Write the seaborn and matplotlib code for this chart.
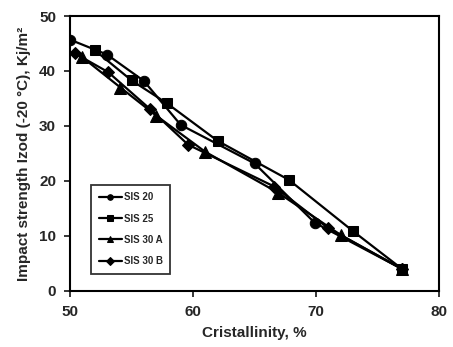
import matplotlib
matplotlib.use("Agg")
import matplotlib.pyplot as plt
import seaborn as sns
import pandas as pd

sis20_x = [50.0, 53.0, 56.0, 59.0, 65.0, 69.9, 77.0]
sis20_y = [45.7, 43.0, 38.2, 30.2, 23.2, 12.4, 4.0]
sis25_x = [52.0, 55.0, 57.9, 62.0, 67.8, 73.0, 77.0]
sis25_y = [43.8, 38.3, 34.1, 27.3, 20.2, 10.9, 4.0]
sis30a_x = [51.0, 54.1, 57.0, 61.0, 66.9, 72.0, 77.0]
sis30a_y = [42.5, 37.0, 31.9, 25.3, 17.9, 10.2, 4.0]
sis30b_x = [50.4, 53.1, 56.5, 59.6, 66.6, 71.0, 77.0]
sis30b_y = [43.2, 39.8, 33.1, 26.6, 19.0, 11.4, 4.0]
series = ["SIS 20", "SIS 25", "SIS 30 A", "SIS 30 B"]

rows = []
for name, xs, ys in zip(series, [sis20_x, sis25_x, sis30a_x, sis30b_x],
                        [sis20_y, sis25_y, sis30a_y, sis30b_y]):
    for i, (x, y) in enumerate(zip(xs, ys)):
        rows.append({"x": x, "y": y, "series": name, "order": i})
df = pd.DataFrame(rows)

sns.set_style("ticks")
plt.rcParams['font.family'] = ['Liberation Sans', 'DejaVu Sans']

fig = plt.figure(figsize=(4.53, 3.47), dpi=100)
ax = fig.add_axes([70/453, 1 - 291/347, (439-70)/453, (291-16)/347])

markers = {"SIS 20": "o", "SIS 25": "s", "SIS 30 A": "^", "SIS 30 B": "D"}
sizes_m = {"SIS 20": 7.5, "SIS 25": 7.5, "SIS 30 A": 8, "SIS 30 B": 6}
for name in series:
    sub = df[df.series == name]
    sns.lineplot(data=sub, x="x", y="y", ax=ax, sort=False, color="black",
                 marker=markers[name], markersize=sizes_m[name],
                 markeredgecolor="black", linewidth=1.6, label=name)

ax.set_xlim(50, 80)
ax.set_ylim(0, 50)
ax.set_xticks([50, 60, 70, 80])
ax.set_yticks([0, 10, 20, 30, 40, 50])
for s in ax.spines.values():
    s.set_linewidth(1.5)
    s.set_color("black")
ax.tick_params(direction="out", length=4, width=1.3, labelsize=11, pad=6)
for lab in ax.get_xticklabels() + ax.get_yticklabels():
    lab.set_fontweight("bold")
ax.set_xlabel("Cristallinity, %", fontsize=11, fontweight="bold", labelpad=5)
ax.set_ylabel("Impact strength Izod (-20 °C), Kj/m²", fontsize=11,
              fontweight="bold", labelpad=6)

leg = ax.legend(loc="lower left", bbox_to_anchor=(0.045, 0.045),
                prop={"weight": "bold", "size": 7}, frameon=True, fancybox=False,
                handlelength=2.3, labelspacing=1.15, borderpad=0.8,
                handletextpad=0.2)
leg.get_frame().set_edgecolor("black")
leg.get_frame().set_linewidth(1.3)
for h in leg.legend_handles:
    h.set_markersize(4)

fig.savefig("out.png", dpi=100)
